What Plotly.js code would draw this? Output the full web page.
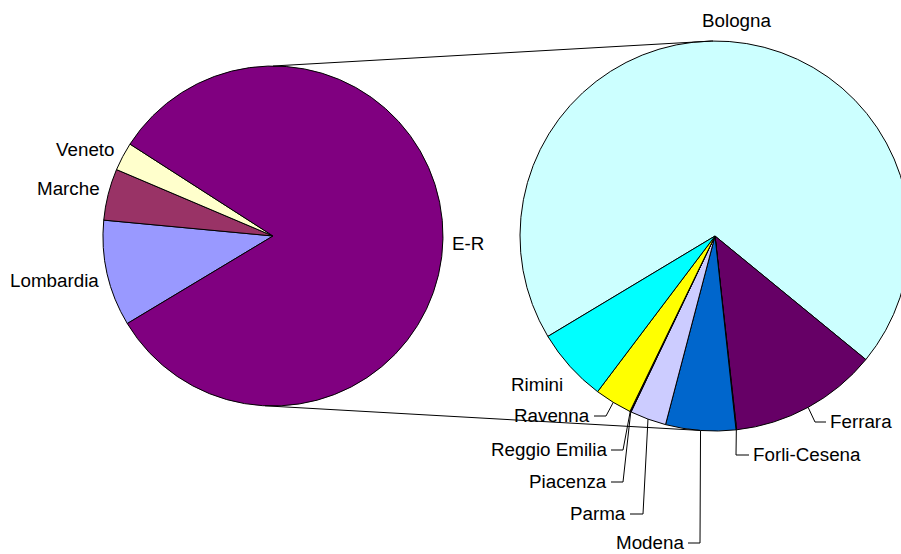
<!DOCTYPE html>
<html>
<head>
<meta charset="utf-8">
<script src="https://cdn.plot.ly/plotly-3.0.1.min.js"></script>
<style>html,body{margin:0;padding:0;overflow:hidden;background:#fff;}#chart{width:920px;height:554px;}</style>
</head>
<body>
<div id="chart"></div>
<script>
// ---- data ----
const mainLabels = ["Lombardia", "Marche", "Veneto", "E-R"];
const mainValues = [10.1, 4.9, 2.7, 82.3];
const mainColors = ["#9999FF", "#993366", "#FFFFCC", "#800080"];

const subLabels = ["Bologna", "Ferrara", "Forli-Cesena", "Modena", "Parma", "Piacenza", "Reggio Emilia", "Ravenna", "Rimini"];
const subValues = [69.5, 12.3, 0.05, 5.8, 3.0, 0.05, 0.05, 3.1, 6.1];
const subColors = ["#CCFFFF", "#660066", "#FF8080", "#0066CC", "#CCCCFF", "#000080", "#FF00FF", "#FFFF00", "#00FFFF"];

// ---- layout geometry (pixels) ----
const W = 920, H = 554;
const ROT = -121;
const c1 = {x: 273, y: 236, r: 170};
const c2 = {x: 715, y: 236, r: 195};
const px = x => x / W;
const py = y => 1 - y / H;
const FONT = {family: "Liberation Sans, Arial, sans-serif", size: 18.8, color: "#000"};

function domainOf(c) {
  return {x: [px(c.x - c.r), px(c.x + c.r)], y: [py(c.y + c.r), py(c.y - c.r)]};
}
function midAngle(values, idx) {
  const total = values.reduce((a, b) => a + b, 0);
  let cum = 0;
  for (let i = 0; i < idx; i++) cum += values[i];
  return (90 - ROT) - 360 * (cum + values[idx] / 2) / total;
}
function onCircle(c, deg) {
  const a = deg * Math.PI / 180;
  return [c.x + c.r * Math.cos(a), c.y - c.r * Math.sin(a)];
}

const traces = [
  {type: "pie", labels: mainLabels, values: mainValues, marker: {colors: mainColors, line: {color: "#000", width: 1}},
   sort: false, direction: "clockwise", rotation: ROT, textinfo: "none", hoverinfo: "label+value", domain: domainOf(c1)},
  {type: "pie", labels: subLabels, values: subValues, marker: {colors: subColors, line: {color: "#000", width: 1}},
   sort: false, direction: "clockwise", rotation: ROT, textinfo: "none", hoverinfo: "label+value", domain: domainOf(c2)}
];

// label placement (pixels): text anchor point, and leader elbow for the second pie
const mainLabelPos = {
  "Lombardia": {x: 101, y: 280, xa: "right"},
  "Marche": {x: 102, y: 189, xa: "right"},
  "Veneto": {x: 117, y: 149, xa: "right"},
  "E-R": {x: 450, y: 243, xa: "left"}
};
const subLabelPos = {
  "Bologna": {x: 736, y: 21, xa: "center"},
  "Ferrara": {x: 828, y: 421, xa: "left", l0: 826, l1: 815},
  "Forli-Cesena": {x: 751, y: 454, xa: "left", l0: 749, l1: 736},
  "Modena": {x: 686, y: 542, xa: "right", l0: 688, l1: 700},
  "Parma": {x: 628, y: 513, xa: "right", l0: 630, l1: 643},
  "Piacenza": {x: 609, y: 481, xa: "right", l0: 611, l1: 623},
  "Reggio Emilia": {x: 609, y: 449, xa: "right", l0: 611, l1: 623},
  "Ravenna": {x: 592, y: 415, xa: "right", l0: 594, l1: 606},
  "Rimini": {x: 537, y: 384, xa: "center"}
};

const annotations = [];
const shapes = [];
function addLabel(name, p) {
  annotations.push({text: name, x: px(p.x), y: py(p.y), xref: "paper", yref: "paper",
    xanchor: p.xa, yanchor: "middle", showarrow: false, font: FONT});
}
mainLabels.forEach(n => addLabel(n, mainLabelPos[n]));
subLabels.forEach((n, i) => {
  const p = subLabelPos[n];
  addLabel(n, p);
  if (p.l0 !== undefined) {
    const a = onCircle(c2, midAngle(subValues, i));
    const ly = p.y + 1;
    shapes.push({type: "path", xref: "paper", yref: "paper",
      path: `M ${px(p.l0)},${py(ly)} L ${px(p.l1)},${py(ly)} L ${px(a[0])},${py(a[1])}`,
      line: {color: "#000", width: 1}});
  }
});
// connector lines between the E-R slice and the second pie
const tL = onCircle(c1, 90), tR = onCircle(c2, 90.6);
const bL = onCircle(c1, -92.7), bR = onCircle(c2, -94.4);
[[tL, tR], [bL, bR]].forEach(([a, b]) => shapes.push({type: "line", xref: "paper", yref: "paper",
  x0: px(a[0]), y0: py(a[1]), x1: px(b[0]), y1: py(b[1]), line: {color: "#000", width: 1}}));

Plotly.newPlot("chart", traces, {
  width: W, height: H, margin: {l: 0, r: 0, t: 0, b: 0},
  showlegend: false, paper_bgcolor: "#fff", annotations: annotations, shapes: shapes
}, {displayModeBar: false, staticPlot: true});
</script>
</body>
</html>
